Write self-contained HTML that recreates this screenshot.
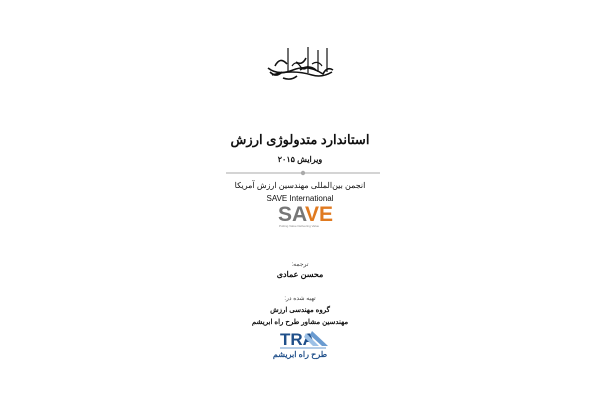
<!DOCTYPE html>
<html><head><meta charset="utf-8"><style>
body{margin:0;width:600px;height:400px;background:#fff;position:relative;overflow:hidden;font-family:"Liberation Sans","Noto Sans CJK SC",sans-serif;color:#111}
.t{position:absolute;left:0;width:600px;text-align:center;direction:rtl;white-space:nowrap}
</style></head><body>
<svg style="position:absolute;left:0;top:0" width="600" height="400">
<g stroke="#111" fill="none" stroke-width="1.6">
<path d="M268 68 q10 8 25 2 q15 -6 30 4 q4 -8 10 -4"/>
<path d="M272 75 q20 -6 40 0 q10 3 20 -3"/>
<path d="M288 48 v24 M308 47 v26 M318 50 v22 M327 48 v24" stroke-width="1.2"/>
<path d="M275 66 q5 -10 12 -2 M296 62 q6 4 10 -4 M283 78 q8 3 14 -2 M300 70 q8 -6 16 0 M270 72 q6 6 12 0"/>
<path d="M292 66 q4 -6 8 0 q4 6 8 0 M312 64 q6 -4 10 2" stroke-width="1.2"/>
</g>
<line x1="226" y1="173" x2="380" y2="173" stroke="#aaa" stroke-width="1"/>
<circle cx="303" cy="173" r="2.2" fill="#aaa"/>
<text x="278" y="221" font-family="Liberation Sans" font-weight="bold" font-size="21" fill="#777">SA</text>
<text x="305" y="221" font-family="Liberation Sans" font-weight="bold" font-size="21" fill="#e07a20">VE</text>
<text x="279" y="227" font-size="3" fill="#888">Putting Value Delivering Value</text>
<text x="280" y="345" font-family="Liberation Sans" font-weight="bold" font-size="17" fill="#1f4f8a">TRA</text>
<path d="M312 331 l16 15 h-6 l-12 -11z" fill="#6a9bd0"/>
<path d="M306 333 l13 13 h-6 l-9 -9z" fill="#9cc0e6"/>
<line x1="280" y1="348" x2="326" y2="348" stroke="#6a9bd0" stroke-width="1"/>
</svg>
<div class="t" style="top:132px;font-size:13px;font-weight:bold">استاندارد متدولوژی ارزش</div>
<div class="t" style="top:155px;font-size:8px;font-weight:bold">ویرایش ۲۰۱۵</div>
<div class="t" style="top:181px;font-size:8px">انجمن بین‌المللی مهندسین ارزش آمریکا</div>
<div class="t" style="top:194px;font-size:8px">SAVE International</div>
<div class="t" style="top:261px;font-size:6px;color:#444">ترجمه:</div>
<div class="t" style="top:270px;font-size:8px;font-weight:bold">محسن عمادی</div>
<div class="t" style="top:295px;font-size:6px;color:#444">تهیه شده در:</div>
<div class="t" style="top:306px;font-size:7px;font-weight:bold">گروه مهندسی ارزش</div>
<div class="t" style="top:318px;font-size:7px;font-weight:bold">مهندسین مشاور طرح راه ابریشم</div>
<div class="t" style="top:350px;font-size:8px;font-weight:bold;color:#1f4f8a">طرح راه ابریشم</div>
</body></html>
